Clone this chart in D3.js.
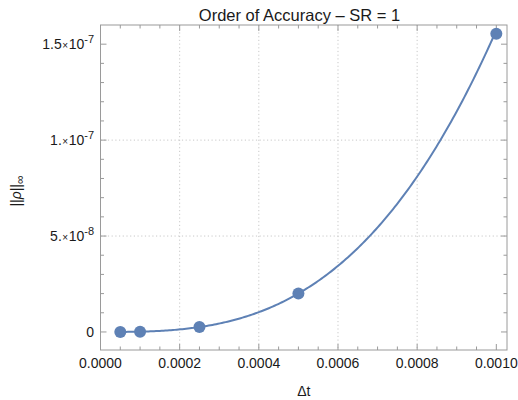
<!DOCTYPE html>
<html>
<head>
<meta charset="utf-8">
<script src="https://cdn.jsdelivr.net/npm/d3@7/dist/d3.min.js"></script>
<style>
  html, body { margin: 0; padding: 0; background: #fff; }
  svg { display: block; font-family: "Liberation Sans", Arial, Helvetica, sans-serif; }
</style>
</head>
<body>
<svg id="chart" width="518" height="400"></svg>
<script>
// Time step sizes and the measured max-norm error at each one
const dtValues = [0.00005, 0.0001, 0.00025, 0.0005, 0.001];
const errValues = [2.1e-11, 1.7e-10, 2.6e-9, 2.0e-8, 1.555e-7];

// Axis ticks and their labels
const xTickValues = [0, 0.0002, 0.0004, 0.0006, 0.0008, 0.001];
const xTickLabels = ["0.0000", "0.0002", "0.0004", "0.0006", "0.0008", "0.0010"];
const yTickValues = [0, 5e-8, 1e-7, 1.5e-7];
const yTickMantissas = ["0", "5.", "1.", "1.5"];
const yTickExponents = [null, "-8", "-7", "-7"];

const titleText = "Order of Accuracy \u2013 SR = 1";
const xLabelText = "\u0394t";

const svg = d3.select("#chart");
const frame = { left: 100.5, right: 507, top: 25, bottom: 350 };

const x = d3.scaleLinear().domain([0, 0.001027]).range([frame.left, frame.right]);
const y = d3.scaleLinear().domain([-9.4e-9, 1.6e-7]).range([frame.bottom, frame.top]);

const frameColor = "#9a9a9a";
const textColor = "#1a1a1a";
const markColor = "#5e81b5";

// dotted grid at the major ticks
const g = svg.append("g");
g.selectAll("line.vgrid")
  .data([0.0002, 0.0004, 0.0006, 0.0008])
  .join("line")
  .attr("x1", d => x(d)).attr("x2", d => x(d))
  .attr("y1", frame.top).attr("y2", frame.bottom)
  .attr("stroke", "#c8c8c8").attr("stroke-width", 1)
  .attr("stroke-dasharray", "1.2,2.5");
g.selectAll("line.hgrid")
  .data([5e-8, 1e-7])
  .join("line")
  .attr("x1", frame.left).attr("x2", frame.right)
  .attr("y1", d => y(d)).attr("y2", d => y(d))
  .attr("stroke", "#c8c8c8").attr("stroke-width", 1)
  .attr("stroke-dasharray", "1.2,2.5");

// frame
svg.append("rect")
  .attr("x", frame.left).attr("y", frame.top)
  .attr("width", frame.right - frame.left).attr("height", frame.bottom - frame.top)
  .attr("fill", "none").attr("stroke", frameColor).attr("stroke-width", 1);

// inward ticks on all four sides
const xMinor = d3.range(0, 0.00102, 0.00005).filter(v => Math.abs(v / 0.0002 - Math.round(v / 0.0002)) > 1e-6);
const yMinor = d3.range(0, 1.6e-7, 1e-8).filter(v => Math.abs(v / 5e-8 - Math.round(v / 5e-8)) > 1e-6);
const ticks = svg.append("g").attr("stroke", frameColor).attr("stroke-width", 1);
function xTicks(vals, len) {
  vals.forEach(v => {
    const px = x(v);
    ticks.append("line").attr("x1", px).attr("x2", px).attr("y1", frame.bottom).attr("y2", frame.bottom - len);
    ticks.append("line").attr("x1", px).attr("x2", px).attr("y1", frame.top).attr("y2", frame.top + len);
  });
}
function yTicks(vals, len) {
  vals.forEach(v => {
    const py = y(v);
    ticks.append("line").attr("y1", py).attr("y2", py).attr("x1", frame.left).attr("x2", frame.left + len);
    ticks.append("line").attr("y1", py).attr("y2", py).attr("x1", frame.right).attr("x2", frame.right - len);
  });
}
xTicks(xTickValues, 6);
xTicks(xMinor, 3.5);
yTicks(yTickValues, 6);
yTicks(yMinor, 3.5);

// x tick labels
svg.append("g").selectAll("text")
  .data(xTickValues)
  .join("text")
  .attr("x", d => x(d)).attr("y", 368)
  .attr("text-anchor", "middle")
  .attr("font-size", 14).attr("fill", textColor)
  .text((d, i) => xTickLabels[i]);

// y tick labels, with scientific notation exponents
const yl = svg.append("g");
yTickValues.forEach((v, i) => {
  const t = yl.append("text")
    .attr("x", 94).attr("y", y(v) + 5)
    .attr("text-anchor", "end")
    .attr("font-size", 14).attr("fill", textColor);
  if (yTickExponents[i] === null) {
    t.text(yTickMantissas[i]);
  } else {
    t.append("tspan").text(yTickMantissas[i]);
    t.append("tspan").attr("font-size", 10).attr("dx", 0.5).text("\u00d7");
    t.append("tspan").attr("dx", 0.5).text("10");
    t.append("tspan").attr("font-size", 11).attr("dy", -6).text(yTickExponents[i]);
  }
});

// power-law fit err = a * dt^p, least squares in log-log space
const lx = dtValues.map(Math.log), ly = errValues.map(Math.log);
const mx = d3.mean(lx), my = d3.mean(ly);
const p = d3.sum(lx.map((v, i) => (v - mx) * (ly[i] - my))) / d3.sum(lx.map(v => (v - mx) * (v - mx)));
const a = Math.exp(my - p * mx);
const fitX = d3.range(0, 201).map(k => dtValues[0] + (dtValues[dtValues.length - 1] - dtValues[0]) * k / 200);

svg.append("path")
  .datum(fitX)
  .attr("d", d3.line().x(d => x(d)).y(d => y(a * Math.pow(d, p))))
  .attr("fill", "none").attr("stroke", markColor).attr("stroke-width", 2);

// data points
svg.append("g").selectAll("circle")
  .data(dtValues)
  .join("circle")
  .attr("cx", d => x(d)).attr("cy", (d, i) => y(errValues[i]))
  .attr("r", 6).attr("fill", markColor);

// title and axis labels
svg.append("text")
  .attr("x", 299.5).attr("y", 20.5)
  .attr("text-anchor", "middle").attr("font-size", 16.5).attr("fill", textColor)
  .text(titleText);

svg.append("text")
  .attr("x", (frame.left + frame.right) / 2).attr("y", 396)
  .attr("text-anchor", "middle").attr("font-size", 14).attr("fill", textColor)
  .text(xLabelText);

const ylab = svg.append("text")
  .attr("transform", "translate(21,191) rotate(-90)")
  .attr("text-anchor", "middle").attr("font-size", 14).attr("fill", textColor);
ylab.append("tspan").text("||");
ylab.append("tspan").attr("font-style", "italic").text("\u03c1");
ylab.append("tspan").text("||");
ylab.append("tspan").attr("font-size", 12).attr("dy", 3).text("\u221e");
</script>
</body>
</html>
